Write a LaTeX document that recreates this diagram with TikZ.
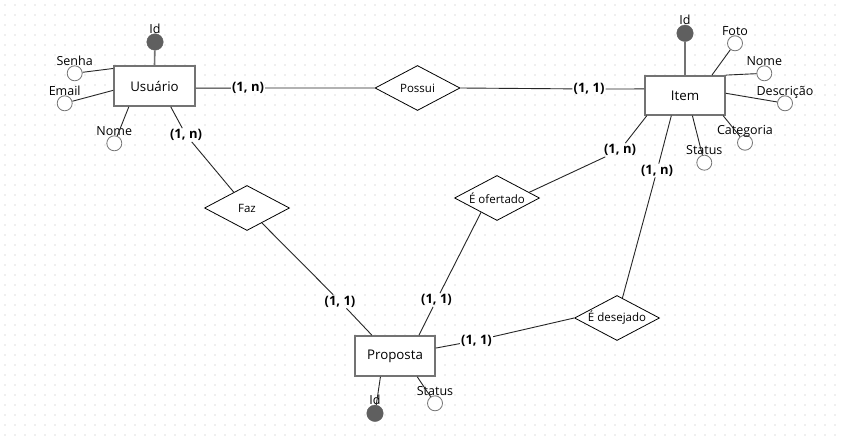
\documentclass[tikz,border=0pt]{standalone}
\usepackage{fontspec}
\setmainfont{Open Sans}
\usetikzlibrary{shapes.geometric}
\definecolor{boxgray}{HTML}{737373}
\definecolor{keygray}{HTML}{5F5F5F}
\definecolor{dotgray}{HTML}{BDBDBD}

\begin{document}
\begin{tikzpicture}[x=1pt, y=-1pt]
	%Hintergrund
	\fill[white] (0,0) rectangle (842,444);
	\useasboundingbox (0,0) rectangle (842,444);
	\foreach \x in {5,15,...,835}
		\foreach \y in {5,15,...,435}
			\fill[dotgray] (\x,\y) circle (0.6pt);
	
	\tikzset{
		entity/.style = {draw=boxgray, line width=1.6pt, fill=white, minimum width=80pt, minimum height=40pt, inner sep=0pt, font=\fontsize{13.3}{15}\selectfont},
		relation/.style = {diamond, draw, line width=0.8pt, fill=white, aspect=1.89, inner sep=0pt, minimum width=85pt, minimum height=45pt, font=\fontsize{11.5}{13}\selectfont},
		attrtxt/.style = {inner sep=0pt, text height=8.5pt, text depth=0pt, font=\fontsize{12.5}{14}\selectfont},
		attr/.style = {circle, draw=boxgray, line width=0.8pt, fill=white, minimum size=15pt, inner sep=0pt, label distance=2.5pt, label={[attrtxt]above:#1}},
		keyattr/.style = {circle, draw=keygray, fill=keygray, minimum size=16.5pt, inner sep=0pt, label distance=1pt, label={[attrtxt]above:#1}},
		card/.style = {inner sep=1pt, font=\bfseries\fontsize{13}{15}\selectfont},
		con/.style = {line width=0.9pt, draw=black!85},
		keycon/.style = {line width=1.6pt, draw=boxgray}
	};
	
	%Entidades
	\node[entity, minimum width=81pt] (usuario) at (154.5,86) {Usuário};
	\node[entity, minimum height=39pt] (item) at (685,95.4) {Item};
	\node[entity] (proposta) at (395,356) {Proposta};
	
	%Relacionamentos
	\node[relation] (possui) at (417.5,88) {Possui};
	\node[relation] (faz) at (247,208) {Faz};
	\node[relation] (ofertado) at (497,198) {É ofertado};
	\node[relation] (desejado) at (617,318) {É desejado};
	
	%Atributos Usuario
	\node[keyattr=Id] (uid) at (155,42) {};
	\node[attr=Senha] (usenha) at (74.7,73.3) {};
	\node[attr=Email] (uemail) at (64.7,103.3) {};
	\node[attr=Nome] (unome) at (114.3,143.3) {};
	\draw[keycon] (usuario.north) -- (uid);
	\draw[con] (usuario.157) -- (usenha);
	\draw[con] (usuario.186) -- (uemail);
	\draw[con] (usuario.219) -- (unome);
	
	%Atributos Item
	\node[keyattr=Id] (iid) at (685,33.3) {};
	\node[attr=Foto] (ifoto) at (735,43.3) {};
	\node[attr=Nome] (inome) at (764.3,73.3) {};
	\node[attr=Descrição] (idesc) at (785,103.3) {};
	\node[attr=Categoria] (icat) at (745,142.7) {};
	\node[attr=Status] (istatus) at (704.3,162.7) {};
	\draw[keycon] (item.north) -- (iid);
	\draw[con] (item.37) -- (ifoto);
	\draw[con] (item.north east) -- (inome);
	\draw[con] (item.3) -- (idesc);
	\draw[con] (item.332) -- (icat);
	\draw[con] (item.290) -- (istatus);
	
	%Atributos Proposta
	\node[keyattr=Id] (pid) at (375,413.3) {};
	\node[attr=Status] (pstatus) at (435,403.3) {};
	\draw[con] (proposta.235) -- (pid);
	\draw[con] (proposta.317) -- (pstatus);
	
	%Cardinalidades
	\node[card] (c1) at (248,88) {(1, n)};
	\node[card] (c2) at (589,89) {(1, 1)};
	\node[card] (c3) at (186,135) {(1, n)};
	\node[card] (c4) at (340,301.5) {(1, 1)};
	\node[card] (c5) at (436.5,300) {(1, 1)};
	\node[card] (c6) at (476.5,340.5) {(1, 1)};
	\node[card] (c7) at (620,150) {(1, n)};
	\node[card] (c8) at (657,170.5) {(1, n)};
	
	%Linhas
	\draw[con] (usuario.357) -- (c1) -- (possui.west);
	\draw[con] (possui.east) -- (c2) -- (item.171);
	\draw[con] (usuario.308) -- (c3) -- (faz);
	\draw[con] (faz) -- (c4) -- (proposta.138);
	\draw[con] (ofertado.222) -- (c5) -- (proposta.41);
	\draw[con] (desejado.west) -- (c6) -- (proposta.11);
	\draw[con] (item.208) -- (c7) -- (ofertado.10);
	\draw[con] (item.236) -- (c8) -- (desejado);
\end{tikzpicture}
\end{document}
